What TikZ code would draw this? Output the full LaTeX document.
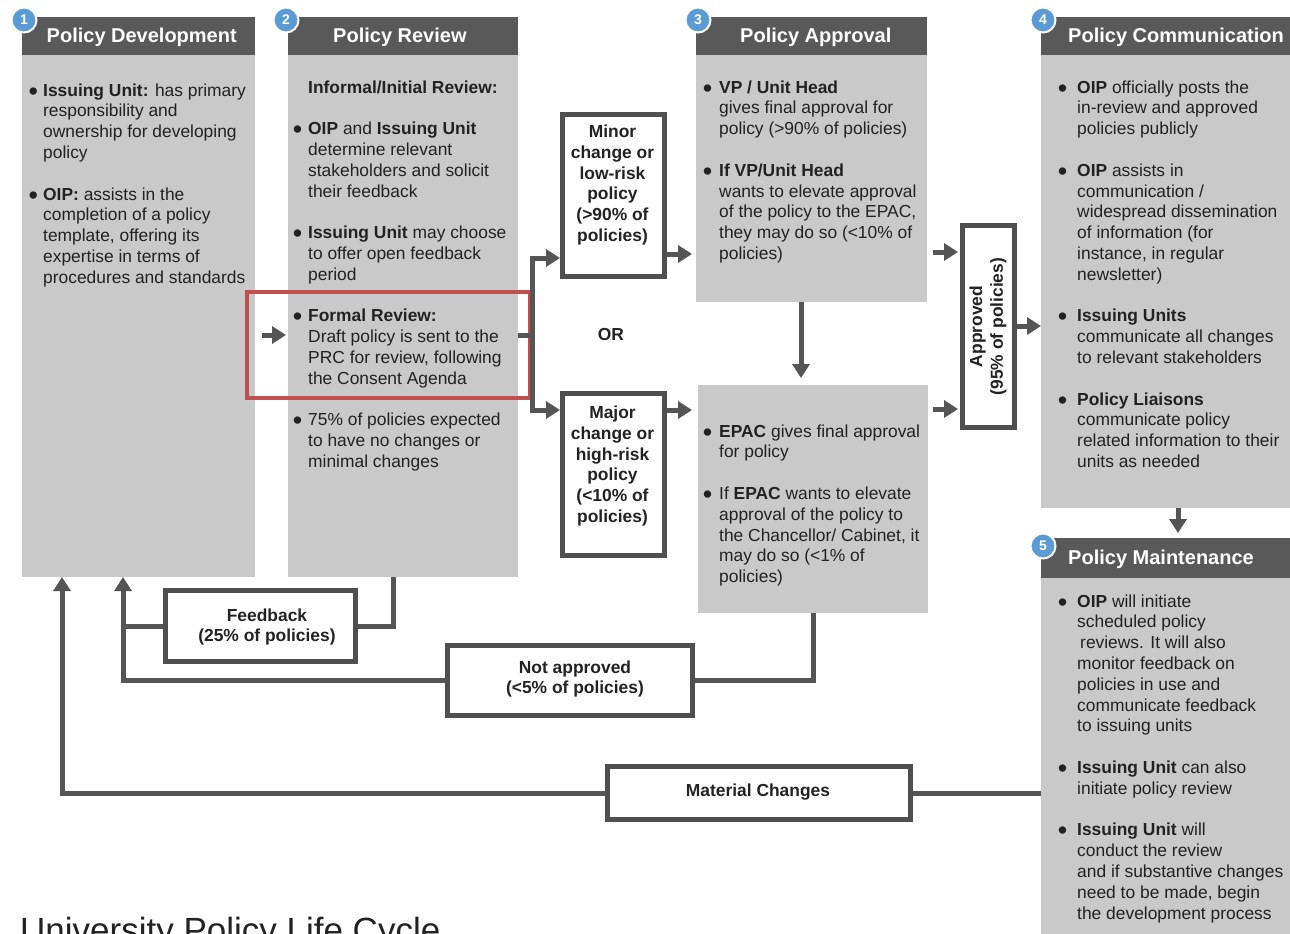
\documentclass[tikz,border=0pt]{standalone}
\usepackage{fontspec}
\setmainfont{Liberation Sans}
\usetikzlibrary{arrows.meta}
\definecolor{hdrc}{HTML}{595959}
\definecolor{bodyc}{HTML}{C9C9C9}
\definecolor{boxc}{HTML}{4F4F4F}
\definecolor{arrc}{HTML}{555555}
\definecolor{txtc}{HTML}{222222}
\definecolor{badgec}{HTML}{5B9BD5}
\definecolor{redc}{HTML}{C0504D}
\newcommand{\mybul}[1]{\leavevmode\llap{\raisebox{-4pt}{\fontsize{27}{20}\selectfont\textbullet}\hspace{\numexpr #1-2\relax pt}}}
\newcommand{\gp}{\\[20.8pt]}
\tikzset{
  hdr/.style={fill=hdrc, draw=none, anchor=north west, inner sep=0pt, outer sep=0pt},
  body/.style={fill=bodyc, draw=none, anchor=north west, inner sep=0pt, outer sep=0pt},
  htext/.style={anchor=base west, inner sep=0pt, text=white, font=\bfseries\fontsize{20}{24}\selectfont},
  txt/.style={anchor=base west, inner sep=0pt, text=txtc, font=\fontsize{17.4}{20.8}\selectfont},
  wbox/.style={draw=boxc, line width=5pt, fill=white, inner sep=0pt},
  btext/.style={inner sep=0pt, text=txtc, align=center, font=\bfseries\fontsize{17.4}{20.8}\selectfont},
  arr/.style={draw=arrc, line width=5pt, -{Triangle[length=14pt,width=17pt]}},
  conn/.style={draw=arrc, line width=5pt},
  badge/.style={circle, fill=badgec, draw=white, line width=2pt, minimum size=25pt, inner sep=0pt, text=white, font=\bfseries\fontsize{14}{14}\selectfont},
}
\begin{document}
\begin{tikzpicture}[x=1pt,y=-1pt]
\useasboundingbox (0,0) rectangle (1290,934);
\clip (0,0) rectangle (1290,934);
\fill[white] (0,0) rectangle (1290,934);

% ---- column bodies and headers
\node[body, minimum width=233, minimum height=522] (b1) at (22,55) {};
\node[hdr, minimum width=233, minimum height=38] (h1) at (22,17) {};
\node[body, minimum width=230, minimum height=522] (b2) at (288,55) {};
\node[hdr, minimum width=230, minimum height=38] (h2) at (288,17) {};
\node[body, minimum width=231, minimum height=247] (b3) at (696,55) {};
\node[hdr, minimum width=231, minimum height=38] (h3) at (696,17) {};
\node[body, minimum width=230, minimum height=228] (epac) at (698,385) {};
\node[body, minimum width=260, minimum height=453] (b4) at (1041,55) {};
\node[hdr, minimum width=260, minimum height=38] (h4) at (1041,17) {};
\node[body, minimum width=260, minimum height=370] (b5) at (1041,578) {};
\node[hdr, minimum width=260, minimum height=40] (h5) at (1041,538) {};

% ---- header texts
\node[htext] (ht1) at (46.5,43) {Policy Development};
\node[htext] (ht2) at (333,43) {Policy Review};
\node[htext] (ht3) at (740,43) {Policy Approval};
\node[htext] (ht4) at (1068,43) {Policy Communication};
\node[htext] (ht5) at (1068,564) {Policy Maintenance};

% ---- badges
\node[badge] (n1) at (24,20) {1};
\node[badge] (n2) at (286,20) {2};
\node[badge] (n3) at (698,20) {3};
\node[badge] (n4) at (1043,20) {4};
\node[badge] (n5) at (1043,546) {5};

% ---- red highlight of the formal review
\node[draw=redc, line width=4pt, inner sep=0pt, minimum width=283, minimum height=106] (fr) at (388.5,345) {};

% ---- body texts
\node[txt] (t1) at (43,96) {\parbox[t]{240pt}{\raggedright
\mybul{7}\textbf{Issuing Unit:} has primary\\
responsibility and\\
ownership for developing\\
policy\gp
\mybul{7}\textbf{OIP:} assists in the\\
completion of a policy\\
template, offering its\\
expertise in terms of\\
procedures and standards}};

\node[txt] (t2) at (308,93) {\parbox[t]{240pt}{\raggedright
\textbf{Informal/Initial Review:}\gp
\mybul{8}\textbf{OIP} and \textbf{Issuing Unit}\\
determine relevant\\
stakeholders and solicit\\
their feedback\gp
\mybul{8}\textbf{Issuing Unit} may choose\\
to offer open feedback\\
period\gp
\mybul{8}\textbf{Formal Review:}\\
Draft policy is sent to the\\
PRC for review, following\\
the Consent Agenda\gp
\mybul{8}75\% of policies expected\\
to have no changes or\\
minimal changes}};

\node[txt] (t3) at (719,93) {\parbox[t]{240pt}{\raggedright
\mybul{9}\textbf{VP / Unit Head}\\
gives final approval for\\
policy (>90\% of policies)\gp
\mybul{9}\textbf{If VP/Unit Head}\\
wants to elevate approval\\
of the policy to the EPAC,\\
they may do so (<10\% of\\
policies)}};

\node[txt] (te) at (719,437) {\parbox[t]{240pt}{\raggedright
\mybul{9}\textbf{EPAC} gives final approval\\
for policy\gp
\mybul{9}If \textbf{EPAC} wants to elevate\\
approval of the policy to\\
the Chancellor/ Cabinet, it\\
may do so (<1\% of\\
policies)}};

\node[txt] (t4) at (1077,93) {\parbox[t]{240pt}{\raggedright
\mybul{12}\textbf{OIP} officially posts the\\
in-review and approved\\
policies publicly\gp
\mybul{12}\textbf{OIP} assists in\\
communication /\\
widespread dissemination\\
of information (for\\
instance, in regular\\
newsletter)\gp
\mybul{12}\textbf{Issuing Units}\\
communicate all changes\\
to relevant stakeholders\gp
\mybul{12}\textbf{Policy Liaisons}\\
communicate policy\\
related information to their\\
units as needed}};

\node[txt] (t5) at (1077,607) {\parbox[t]{240pt}{\raggedright
\mybul{12}\textbf{OIP} will initiate\\
scheduled policy\\
\hspace*{3pt}reviews. It will also\\
monitor feedback on\\
policies in use and\\
communicate feedback\\
to issuing units\gp
\mybul{12}\textbf{Issuing Unit} can also\\
initiate policy review\gp
\mybul{12}\textbf{Issuing Unit} will\\
conduct the review\\
and if substantive changes\\
need to be made, begin\\
the development process}};

% ---- white boxes
\node[wbox, minimum width=102, minimum height=162] (minor) at (613.5,195.5) {};
\node[btext] (minort) at (612.5,185) {Minor\\change or\\low-risk\\policy\\(>90\% of\\policies)};
\node[wbox, minimum width=102, minimum height=162] (major) at (613.5,474) {};
\node[btext] (majort) at (612.5,466) {Major\\change or\\high-risk\\policy\\(<10\% of\\policies)};
\node[btext] (or) at (611,335) {OR};
\node[wbox, minimum width=52, minimum height=202] (ap) at (988.5,326.5) {};
\node[btext, rotate=90] (apt) at (988,326.5) {Approved\\(95\% of policies)};
\node[wbox, minimum width=190, minimum height=71] (fb) at (260.5,626) {};
\node[btext] (fbt) at (267,627) {Feedback\\(25\% of policies)};
\node[wbox, minimum width=245, minimum height=70] (na) at (570,680.5) {};
\node[btext] (nat) at (575,679) {Not approved\\(<5\% of policies)};
\node[wbox, minimum width=303, minimum height=53] (mc) at (759,793) {};
\node[btext] (mct) at (758,792) {Material Changes};

% ---- helper rows / columns
\coordinate (yF) at (0,335);
\coordinate (yT) at (0,258);
\coordinate (yB) at (0,410);
\coordinate (yM) at (0,254);
\coordinate (yA1) at (0,252);
\coordinate (yA2) at (0,409);
\coordinate (yC) at (0,326);
\coordinate (sp) at (532,335);
\coordinate (spT) at (532,258);
\coordinate (spB) at (532,410);
\coordinate (xFb) at (393,0);
\coordinate (xL1) at (123,0);
\coordinate (xL2) at (62,0);
\coordinate (xNa) at (813,0);
\coordinate (xDn) at (801,0);
\coordinate (xDn2) at (1178,0);

% ---- connectors
\draw[arr, shorten <=7pt, shorten >=2pt] (b1.east |- yF) -- (b2.west |- yF);
\draw[conn] (b2.east |- yF) -- (sp);
\draw[arr] (sp) -- (spT) -- (spT -| minor.west);
\draw[arr] (sp) -- (spB) -- (spB -| major.west);
\draw[arr, shorten >=4pt] (minor.east |- yM) -- (b3.west |- yM);
\draw[arr, shorten >=6pt] (major.east |- yB) -- (epac.west |- yB);
\draw[arr, shorten >=7pt] (b3.south -| xDn) -- (epac.north -| xDn);
\draw[arr, shorten <=6pt, shorten >=2pt] (b3.east |- yA1) -- (ap.west |- yA1);
\draw[arr, shorten <=5pt, shorten >=2pt] (epac.east |- yA2) -- (ap.west |- yA2);
\draw[arr] (ap.east |- yC) -- (b4.west |- yC);
\draw[arr, shorten >=5pt] (b4.south -| xDn2) -- (h5.north -| xDn2);
\draw[conn] (b2.south -| xFb) |- (fb.east);
\draw[arr] (fb.west) -| (b1.south -| xL1);
\draw[conn] (epac.south -| xNa) |- (na.east);
\draw[conn] (na.west) -| (fb.west -| xL1);
\draw[conn] (b5.west |- mc) -- (mc.east);
\draw[arr] (mc.west) -| (b1.south -| xL2);

% ---- title
\node[anchor=base west, inner sep=0pt, text=txtc, font=\fontsize{35}{40}\selectfont] (title) at (20,942) {University Policy Life Cycle};
\end{tikzpicture}
\end{document}
